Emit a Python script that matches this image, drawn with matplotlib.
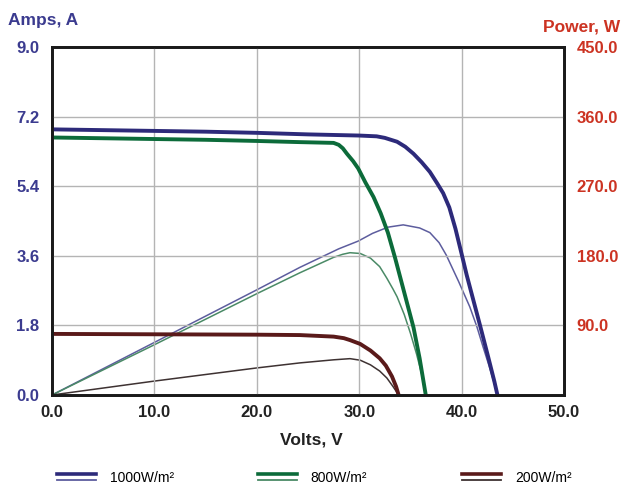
import matplotlib
matplotlib.use("Agg")
import matplotlib.pyplot as plt
from matplotlib.lines import Line2D
from matplotlib.legend_handler import HandlerBase

# ---------------- data ----------------
volts_1000 = [0, 5, 10, 15, 20, 25, 30, 31.7, 32.5, 33.7, 34.5, 35.3, 36.1, 36.9, 37.6,
              38.2, 38.8, 39.4, 40.0, 40.5, 41.0, 41.8, 42.6, 43.2, 43.5]
amps_1000 = [6.87, 6.85, 6.83, 6.81, 6.78, 6.74, 6.71, 6.69, 6.65, 6.55, 6.42, 6.24, 6.02, 5.77, 5.48,
             5.22, 4.85, 4.30, 3.65, 3.10, 2.60, 1.80, 0.98, 0.35, 0.0]

volts_800 = [0, 5, 10, 15, 20, 24.2, 27.5, 28.0, 28.4, 28.8, 29.4, 29.9, 30.6, 31.4, 32.1,
             32.8, 33.5, 34.2, 34.8, 35.3, 35.9, 36.5]
amps_800 = [6.66, 6.64, 6.62, 6.60, 6.57, 6.54, 6.52, 6.47, 6.38, 6.24, 6.05, 5.86, 5.50, 5.12, 4.70,
            4.20, 3.55, 2.85, 2.25, 1.75, 0.95, 0.0]

volts_200 = [0, 10, 20, 24.2, 27.5, 28.5, 29.1, 30.1, 31.1, 32.0, 32.6, 33.2, 33.6, 33.85]
amps_200 = [1.58, 1.57, 1.56, 1.55, 1.51, 1.47, 1.42, 1.32, 1.15, 0.95, 0.76, 0.48, 0.22, 0.0]

pv_1000 = [0, 10, 20, 24.2, 28, 29.9, 31.3, 32.8, 34.3, 35.9, 36.9, 37.8, 38.5, 39.7, 40.8,
           41.5, 42.1, 42.7, 43.1, 43.5]
pw_1000 = [0, 68, 136, 165, 189, 199, 209, 217, 220, 216, 210, 197, 181, 147, 114,
           88, 62, 37, 19, 0]

pv_800 = [0, 10, 20, 24.2, 27.5, 28.4, 29.1, 30.1, 31.1, 32.0, 32.7, 33.3, 33.7, 34.4, 35.0,
          35.6, 36.1, 36.5]
pw_800 = [0, 65, 131, 158, 178, 182, 184, 183, 177, 166, 151, 137, 127, 104, 80,
          53, 27, 0]

pv_200 = [0, 10, 20, 24.2, 27.5, 29.1, 30.1, 31.1, 32.0, 32.7, 33.3, 33.85]
pw_200 = [0, 18, 35, 41.5, 45.5, 47, 45, 39, 31, 22, 11, 0]

labels = ["1000W/m\u00b2", "800W/m\u00b2", "200W/m\u00b2"]
x_ticks = [0, 10, 20, 30, 40, 50]
amp_ticks = [0, 1.8, 3.6, 5.4, 7.2, 9.0]
pow_ticks = [90, 180, 270, 360, 450]

# ---------------- style ----------------
plt.rcParams['font.family'] = ['Liberation Sans', 'DejaVu Sans']
thick_cols = ["#2d2a7a", "#0c6b3a", "#5a1a1a"]
thin_cols = ["#5d5d9e", "#4a8a66", "#3e3232"]
amp_col = "#3b3b8f"
pow_col = "#cc3322"

W, H = 624, 487
fig = plt.figure(figsize=(W / 100, H / 100), dpi=100)
ax = fig.add_axes([52 / W, (H - 395) / H, (564 - 52) / W, (395 - 47) / H])
ax2 = ax.twinx()

ax.set_xlim(0, 50)
ax.set_ylim(0, 9.0)
ax2.set_ylim(0, 450)

ax.set_xticks(x_ticks)
ax.set_xticklabels([f"{v:.1f}" for v in x_ticks])
ax.set_yticks(amp_ticks)
ax.set_yticklabels([f"{v:.1f}" for v in amp_ticks])
ax2.set_yticks(pow_ticks)
ax2.set_yticklabels([f"{v:.1f}" for v in pow_ticks])

ax.grid(True, color="#b4b4b4", linewidth=1.0)
ax.set_axisbelow(True)
ax.tick_params(axis='x', length=0, pad=7, labelsize=12, labelcolor="#222222")
ax.tick_params(axis='y', length=0, pad=9, labelsize=12, labelcolor=amp_col)
ax2.tick_params(axis='y', length=0, pad=9, labelsize=12, labelcolor=pow_col)
for a in (ax, ax2):
    for lab in a.get_xticklabels() + a.get_yticklabels():
        lab.set_fontweight('bold')
    for sp in a.spines.values():
        sp.set_linewidth(2.0)
        sp.set_color("#1a1a1a")

# power curves (thin) on the right axis
p1, = ax2.plot(pv_1000, pw_1000, color=thin_cols[0], lw=1.1)
p2, = ax2.plot(pv_800, pw_800, color=thin_cols[1], lw=1.1)
p3, = ax2.plot(pv_200, pw_200, color=thin_cols[2], lw=1.1)

# current curves (thick) on the left axis, drawn on top
ax.set_zorder(ax2.get_zorder() + 1)
ax.patch.set_visible(False)
i1, = ax.plot(volts_1000, amps_1000, color=thick_cols[0], lw=2.8, solid_capstyle='round',
              solid_joinstyle='round')
i2, = ax.plot(volts_800, amps_800, color=thick_cols[1], lw=2.8, solid_capstyle='round',
              solid_joinstyle='round')
i3, = ax.plot(volts_200, amps_200, color=thick_cols[2], lw=2.8, solid_capstyle='round',
              solid_joinstyle='round')

fig.text(8 / W, (H - 20) / H, "Amps, A", color=amp_col, fontsize=12.5,
         fontweight='bold', ha='left', va='center')
fig.text(620 / W, (H - 27) / H, "Power, W", color=pow_col, fontsize=12.5,
         fontweight='bold', ha='right', va='center')
fig.text(311 / W, (H - 440) / H, "Volts, V", color="#222222", fontsize=12.5,
         fontweight='bold', ha='center', va='center')


class TwoLineHandler(HandlerBase):
    def create_artists(self, legend, orig_handle, xdescent, ydescent,
                       width, height, fontsize, trans):
        thick, thin = orig_handle
        yc = height / 2 - ydescent
        x0, x1 = -xdescent, -xdescent + width
        a = Line2D([x0, x1], [yc + 2.2, yc + 2.2], color=thick.get_color(),
                   lw=2.6, transform=trans)
        b = Line2D([x0, x1], [yc - 2.2, yc - 2.2], color=thin.get_color(),
                   lw=1.3, transform=trans)
        return [a, b]


starts = [57, 258, 462]
for k, (thk, thn) in enumerate([(i1, p1), (i2, p2), (i3, p3)]):
    fig.legend([(thk, thn)], [labels[k]], handler_map={tuple: TwoLineHandler()},
               loc='center left', bbox_to_anchor=(starts[k] / W, (H - 478) / H),
               frameon=False, fontsize=10, handlelength=2.8, handletextpad=1.0,
               borderpad=0, borderaxespad=0)

fig.savefig("out.png", dpi=100)
